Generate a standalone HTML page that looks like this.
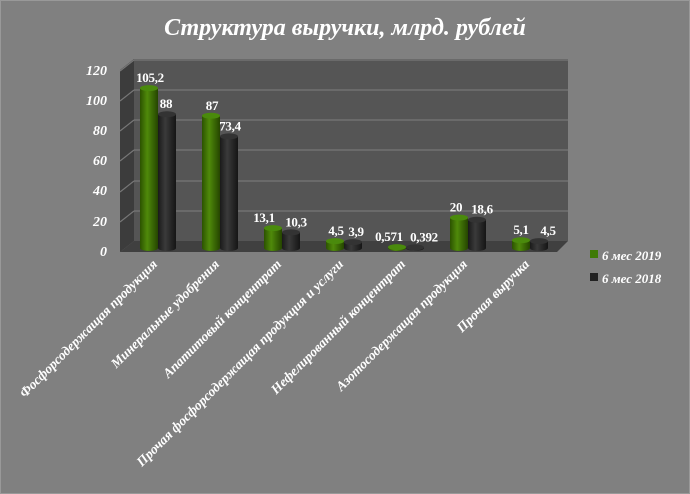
<!DOCTYPE html>
<html><head><meta charset="utf-8"><style>
html,body{margin:0;padding:0;background:#808080;}
svg{display:block;font-family:"Liberation Serif",serif;}
</style></head><body>
<svg width="690" height="494" viewBox="0 0 690 494">
<defs>
<linearGradient id="g" x1="0" x2="1"><stop offset="0" stop-color="#2c5200"/><stop offset="0.4" stop-color="#4f8a0a"/><stop offset="1" stop-color="#254500"/></linearGradient>
<linearGradient id="k" x1="0" x2="1"><stop offset="0" stop-color="#1a1a1a"/><stop offset="0.4" stop-color="#3a3a3a"/><stop offset="1" stop-color="#151515"/></linearGradient>
</defs>
<rect x="0.5" y="0.5" width="689" height="493" fill="#808080" stroke="#999"/>
<text x="345" y="35" text-anchor="middle" font-size="24" font-weight="bold" font-style="italic" fill="#fff">Структура выручки, млрд. рублей</text>
<polygon points="120,70 134,59 134,241 120,252" fill="#3c3c3c"/>
<rect x="134" y="59" width="434" height="182" fill="#555"/>
<polygon points="134,241 568,241 557,252 120,252" fill="#404040"/>
<g stroke="#777" stroke-width="1.2">
<line x1="134" y1="211" x2="568" y2="211"/><line x1="134" y1="181" x2="568" y2="181"/>
<line x1="134" y1="150" x2="568" y2="150"/><line x1="134" y1="120" x2="568" y2="120"/>
<line x1="134" y1="90" x2="568" y2="90"/><line x1="134" y1="60" x2="568" y2="60"/>
<line x1="120" y1="222" x2="134" y2="211"/><line x1="120" y1="192" x2="134" y2="181"/>
<line x1="120" y1="161" x2="134" y2="150"/><line x1="120" y1="131" x2="134" y2="120"/>
<line x1="120" y1="101" x2="134" y2="90"/><line x1="120" y1="71" x2="134" y2="60"/>
</g>
<g font-size="14" font-weight="bold" font-style="italic" fill="#fff" text-anchor="end">
<text x="107" y="256">0</text><text x="107" y="226">20</text><text x="107" y="195">40</text>
<text x="107" y="165">60</text><text x="107" y="135">80</text><text x="107" y="105">100</text><text x="107" y="75">120</text>
</g>
<g id="bars"></g>
<g font-size="13" font-weight="bold" fill="#fff" text-anchor="middle" letter-spacing="-0.3" id="vals"></g>
<g font-size="13.5" font-weight="bold" font-style="italic" fill="#fff" text-anchor="end" id="cats"></g>
<rect x="590" y="250" width="8" height="8" fill="#3f7a05"/>
<rect x="590" y="273" width="8" height="8" fill="#222"/>
<g font-size="13" font-weight="bold" font-style="italic" fill="#fff">
<text x="602" y="260">6 мес 2019</text><text x="602" y="283">6 мес 2018</text>
</g>
</svg>
<script>
var a=[105.2,87,13.1,4.5,0.571,20,5.1],b=[88,73.4,10.3,3.9,0.392,18.6,4.5];
var la=["105,2","87","13,1","4,5","0,571","20","5,1"],lb=["88","73,4","10,3","3,9","0,392","18,6","4,5"];
var da=[-8,-8,-18,-8,-17,-12,-9],db=[8,10,14,12,18,14,18];
var cats=["Фосфорсодержащая продукция","Минеральные удобрения","Апатитовый концентрат","Прочая фосфорсодержащая продукция и услуги","Нефелированный концентрат","Азотосодержащая продукция","Прочая выручка"];
var ns="http://www.w3.org/2000/svg",B=document.getElementById("bars"),V=document.getElementById("vals"),C=document.getElementById("cats");
function el(t,at,p){var e=document.createElementNS(ns,t);for(var k in at)e.setAttribute(k,at[k]);p.appendChild(e);return e;}
function cyl(x,w,v,f,top){var base=248,y=base-v*1.52,rx=w/2,ry=3;
el("path",{d:"M"+x+" "+y+"V"+base+"A"+rx+" "+ry+" 0 0 0 "+(x+w)+" "+base+"V"+y+"Z",fill:"url(#"+f+")"},B);
el("ellipse",{cx:x+rx,cy:y,rx:rx,ry:ry,fill:top},B);return y;}
for(var i=0;i<7;i++){var cx=158+i*62;
var ya=cyl(cx-18,18,a[i],"g","#4a8a0c"),yb=cyl(cx,18,b[i],"k","#333");
var t=el("text",{x:cx+da[i],y:ya-6},V);t.textContent=la[i];
t=el("text",{x:cx+db[i],y:yb-6},V);t.textContent=lb[i];
t=el("text",{x:cx,y:265,transform:"rotate(-45 "+cx+" 265)"},C);t.textContent=cats[i];}
</script>
</body></html>
